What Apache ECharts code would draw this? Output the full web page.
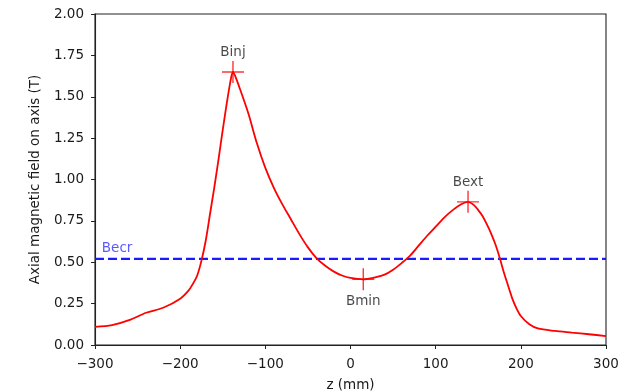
<!DOCTYPE html>
<html>
<head>
<meta charset="utf-8">
<script src="https://cdn.jsdelivr.net/npm/echarts@6/dist/echarts.min.js"></script>
<style>
  html, body { margin: 0; padding: 0; background: #fff; }
  #chart { width: 637px; height: 391px; }
</style>
</head>
<body>
<div id="chart"></div>
<script>
// Axial field profile along z (mm) and field values (T)
const zValues = [-300, -280, -260, -240, -220, -200, -190, -185, -180, -175, -170, -165, -160, -155, -150, -145, -140, -138, -135, -130, -120, -110, -100, -90, -80, -70, -60, -50, -40, -30, -20, -10, 0, 15, 30, 40, 50, 60, 70, 80, 90, 100, 110, 120, 130, 138, 145, 150, 155, 160, 165, 170, 175, 180, 185, 190, 195, 200, 210, 220, 240, 260, 280, 300];
const bValues = [0.11, 0.12, 0.15, 0.195, 0.225, 0.28, 0.33, 0.37, 0.42, 0.51, 0.63, 0.79, 0.95, 1.12, 1.30, 1.47, 1.62, 1.65, 1.62, 1.55, 1.40, 1.22, 1.07, 0.95, 0.85, 0.76, 0.67, 0.59, 0.525, 0.48, 0.445, 0.42, 0.405, 0.397, 0.41, 0.425, 0.455, 0.495, 0.54, 0.60, 0.66, 0.715, 0.77, 0.815, 0.85, 0.865, 0.845, 0.815, 0.78, 0.73, 0.675, 0.61, 0.53, 0.44, 0.36, 0.28, 0.22, 0.175, 0.125, 0.10, 0.085, 0.075, 0.065, 0.054];

// Characteristic points of the profile
const markerNames = ['Binj', 'Bmin', 'Bext'];
const markerZ = [-138, 15, 138];
const markerB = [1.65, 0.397, 0.865];

// ECR resonance field level
const becrLabel = 'Becr';
const becrValue = 0.52;

const xTicks = [-300, -200, -100, 0, 100, 200, 300];
const yTicks = [0, 0.25, 0.5, 0.75, 1.0, 1.25, 1.5, 1.75, 2.0];

const FONT = 'DejaVu Sans';
const INK = '#1a1a1a';
const plus = 'path://M-0.7,-11 h1.4 v10.3 h10.3 v1.4 h-10.3 v10.3 h-1.4 v-10.3 h-10.3 v-1.4 h10.3 z';

const chart = echarts.init(document.getElementById('chart'), null, { renderer: 'canvas' });

const profile = zValues.map((z, i) => [z, bValues[i]]);
const markers = markerNames.map((n, i) => ({
  name: n,
  value: [markerZ[i], markerB[i]],
  label: { position: n === 'Bmin' ? 'bottom' : 'top', distance: n === 'Bmin' ? 4 : 1 }
}));

chart.setOption({
  animation: false,
  backgroundColor: '#ffffff',
  textStyle: { fontFamily: FONT },
  grid: { left: 95, right: 31, top: 14, bottom: 46, show: true, borderColor: '#222', borderWidth: 1.1,
    containLabel: false, outerBoundsMode: 'none' },
  xAxis: {
    type: 'value', min: xTicks[0], max: xTicks[xTicks.length - 1], interval: 100,
    name: 'z (mm)', nameLocation: 'middle', nameGap: 33,
    nameTextStyle: { color: INK, fontSize: 13.5, fontFamily: FONT },
    axisLine: { show: true, onZero: false, lineStyle: { color: '#222', width: 1.1 } },
    axisTick: { show: true, length: 4, lineStyle: { color: '#222', width: 1 } },
    axisLabel: { color: INK, fontSize: 13.5, fontFamily: FONT, margin: 12,
      formatter: v => String(v).replace('-', '\u2212') },
    splitLine: { show: false }
  },
  yAxis: {
    type: 'value', min: yTicks[0], max: yTicks[yTicks.length - 1], interval: 0.25,
    name: 'Axial magnetic field on axis (T)', nameLocation: 'middle', nameGap: 53, nameRotate: 90,
    nameTextStyle: { color: INK, fontSize: 13.5, fontFamily: FONT },
    axisLine: { show: true, onZero: false, lineStyle: { color: '#222', width: 1.1 } },
    axisTick: { show: true, length: 4, lineStyle: { color: '#222', width: 1 } },
    axisLabel: { color: INK, fontSize: 13.5, fontFamily: FONT, margin: 11,
      formatter: v => v.toFixed(2) },
    splitLine: { show: false }
  },
  series: [
    {
      name: becrLabel, type: 'line',
      data: [[xTicks[0], becrValue], [xTicks[xTicks.length - 1], becrValue]],
      symbol: 'none', silent: true,
      lineStyle: { color: '#1a1aff', width: 2.2, type: [9, 4] },
      z: 2
    },
    {
      name: 'profile', type: 'line', data: profile,
      symbol: 'none', smooth: 0.3,
      lineStyle: { color: '#ff0000', width: 1.8 },
      z: 3
    },
    {
      name: 'points', type: 'scatter', data: markers,
      symbol: plus, symbolSize: 22,
      itemStyle: { color: '#ff0000' },
      label: { show: true, formatter: p => p.name, color: INK, fontSize: 13.5, fontFamily: FONT },
      z: 4
    },
    {
      name: 'becrText', type: 'scatter',
      data: [{ name: becrLabel, value: [-292, becrValue] }],
      symbolSize: 0,
      label: { show: true, formatter: p => p.name, position: [0, 0], align: 'left', verticalAlign: 'bottom',
        offset: [0, -3], color: '#3030ff', fontSize: 13.5, fontFamily: FONT },
      z: 4
    }
  ]
});
</script>
</body>
</html>
